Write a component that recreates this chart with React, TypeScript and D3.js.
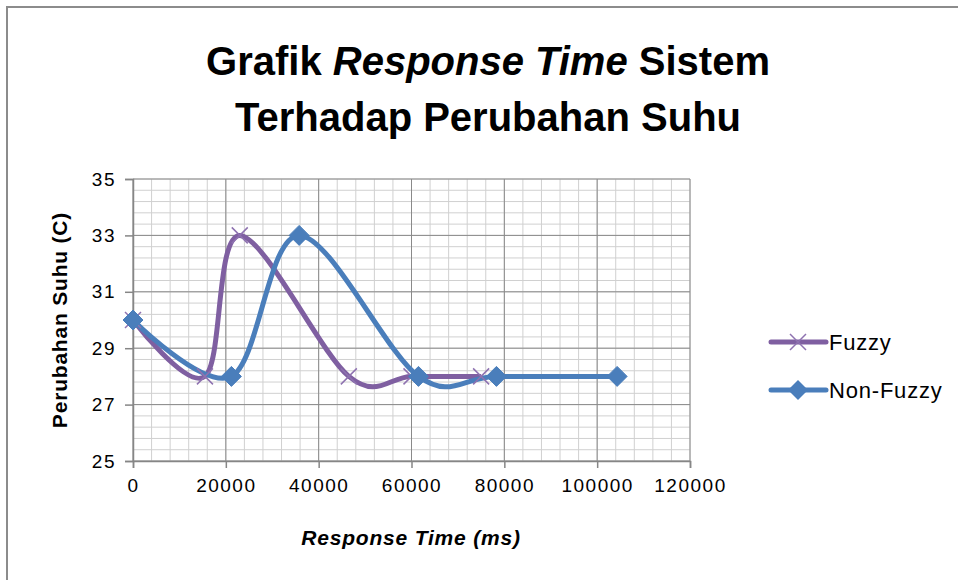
import React, { useEffect, useRef } from "react";
import * as d3 from "d3";

// series values
const fuzzyX = [0, 15500, 23000, 46500, 60000, 75000];
const fuzzyY = [30, 28, 33, 28, 28, 28];
const nonFuzzyX = [0, 21200, 35800, 61500, 78300, 104300];
const nonFuzzyY = [30, 28, 33, 28, 28, 28];

const xTicks = [0, 20000, 40000, 60000, 80000, 100000, 120000];
const yTicks = [25, 27, 29, 31, 33, 35];

const seriesNames = ["Fuzzy", "Non-Fuzzy"];
const seriesColors = ["#7f5fa1", "#4a7ebb"];

const FONT = "'Liberation Sans', Arial, sans-serif";

export default function App() {
    const ref = useRef(null);

    useEffect(() => {
        const svg = d3.select(ref.current);
        svg.selectAll("*").remove();

        // chart frame
        svg.append("rect")
            .attr("x", 7).attr("y", 7)
            .attr("width", 1000).attr("height", 1000)
            .attr("fill", "white")
            .attr("stroke", "#8c8c8c")
            .attr("stroke-width", 2);

        const x = d3.scaleLinear().domain([0, 120000]).range([133, 690]);
        const y = d3.scaleLinear().domain([25, 35]).range([461, 179]);

        const g = svg.append("g");

        // minor grid
        const minorX = d3.range(0, 120001, 4000);
        const minorY = d3.range(25, 35.001, 0.4);
        g.selectAll(".mx").data(minorX).enter().append("line")
            .attr("x1", d => x(d)).attr("x2", d => x(d))
            .attr("y1", y(25)).attr("y2", y(35))
            .attr("stroke", "#d0d0d0").attr("stroke-width", 1);
        g.selectAll(".my").data(minorY).enter().append("line")
            .attr("x1", x(0)).attr("x2", x(120000))
            .attr("y1", d => y(d)).attr("y2", d => y(d))
            .attr("stroke", "#d0d0d0").attr("stroke-width", 1);

        // major grid
        g.selectAll(".Mx").data(xTicks).enter().append("line")
            .attr("x1", d => x(d)).attr("x2", d => x(d))
            .attr("y1", y(25)).attr("y2", y(35))
            .attr("stroke", "#8a8a8a").attr("stroke-width", 1);
        g.selectAll(".My").data(yTicks).enter().append("line")
            .attr("x1", x(0)).attr("x2", x(120000))
            .attr("y1", d => y(d)).attr("y2", d => y(d))
            .attr("stroke", "#8a8a8a").attr("stroke-width", 1);

        // axes
        const xAxis = svg.append("g")
            .attr("transform", `translate(0,${y(25)})`)
            .call(d3.axisBottom(x).tickValues(xTicks).tickSize(7).tickPadding(11).tickFormat(d3.format("d")));
        const yAxis = svg.append("g")
            .attr("transform", `translate(${x(0)},0)`)
            .call(d3.axisLeft(y).tickValues(yTicks).tickSize(8).tickPadding(9));
        [xAxis, yAxis].forEach(a => {
            a.select(".domain").attr("stroke", "#868686").attr("stroke-width", 1.5);
            a.selectAll(".tick line").attr("stroke", "#868686").attr("stroke-width", 1.5);
            a.selectAll(".tick text")
                .attr("font-family", FONT).attr("font-size", 19)
                .attr("letter-spacing", 1.5).attr("fill", "#000");
        });

        // lines
        const line = d3.line<[number, number]>()
            .x(d => x(d[0])).y(d => y(d[1]))
            .curve(d3.curveCardinal.tension(0));

        const fuzzy: [number, number][] = fuzzyX.map((v, i) => [v, fuzzyY[i]]);
        const nonFuzzy: [number, number][] = nonFuzzyX.map((v, i) => [v, nonFuzzyY[i]]);

        svg.append("path").datum(fuzzy)
            .attr("d", line).attr("fill", "none")
            .attr("stroke", seriesColors[0]).attr("stroke-width", 5)
            .attr("stroke-linejoin", "round");
        svg.append("path").datum(nonFuzzy)
            .attr("d", line).attr("fill", "none")
            .attr("stroke", seriesColors[1]).attr("stroke-width", 5)
            .attr("stroke-linejoin", "round");

        const cross = (cx: number, cy: number, s: number) =>
            `M${cx - s},${cy - s}L${cx + s},${cy + s}M${cx - s},${cy + s}L${cx + s},${cy - s}`;
        const diamond = (cx: number, cy: number, s: number) =>
            `M${cx},${cy - s}L${cx + s},${cy}L${cx},${cy + s}L${cx - s},${cy}Z`;

        svg.selectAll(".fx").data(fuzzy).enter().append("path")
            .attr("d", d => cross(x(d[0]), y(d[1]), 8))
            .attr("stroke", "#8e72b0").attr("stroke-width", 1.5).attr("fill", "none");
        svg.selectAll(".nd").data(nonFuzzy).enter().append("path")
            .attr("d", d => diamond(x(d[0]), y(d[1]), 10))
            .attr("fill", seriesColors[1]).attr("stroke", seriesColors[1]).attr("stroke-width", 1);

        // legend
        const leg = svg.append("g");
        [0, 1].forEach(i => {
            const ly = 342 + i * 48;
            leg.append("line").attr("x1", 771).attr("x2", 826).attr("y1", ly).attr("y2", ly)
                .attr("stroke", seriesColors[i]).attr("stroke-width", 5).attr("stroke-linecap", "round");
            if (i === 0) {
                leg.append("path").attr("d", cross(798, ly, 8))
                    .attr("stroke", "#8e72b0").attr("stroke-width", 1.5).attr("fill", "none");
            } else {
                leg.append("path").attr("d", diamond(798, ly, 10)).attr("fill", seriesColors[1]);
            }
            leg.append("text").attr("x", 829).attr("y", ly + 8)
                .attr("font-family", FONT).attr("font-size", 22).attr("letter-spacing", 0.8).attr("fill", "#000")
                .text(seriesNames[i]);
        });

        // titles
        const t1 = svg.append("text").attr("x", 488).attr("y", 75)
            .attr("text-anchor", "middle").attr("font-family", FONT)
            .attr("font-size", 40).attr("font-weight", "bold").attr("fill", "#000");
        t1.append("tspan").text("Grafik ");
        t1.append("tspan").attr("font-style", "italic").text("Response Time");
        t1.append("tspan").text(" Sistem");
        svg.append("text").attr("x", 488).attr("y", 131)
            .attr("text-anchor", "middle").attr("font-family", FONT)
            .attr("font-size", 40).attr("font-weight", "bold").attr("fill", "#000")
            .text("Terhadap Perubahan Suhu");

        svg.append("text")
            .attr("transform", `translate(67,${(179 + 461) / 2}) rotate(-90)`)
            .attr("text-anchor", "middle").attr("font-family", FONT)
            .attr("font-size", 21).attr("font-weight", "bold").attr("letter-spacing", 0.8).attr("fill", "#000")
            .text("Perubahan Suhu (C)");
        svg.append("text")
            .attr("x", 411).attr("y", 545)
            .attr("text-anchor", "middle").attr("font-family", FONT)
            .attr("font-size", 21).attr("font-weight", "bold").attr("font-style", "italic")
            .attr("letter-spacing", 0.8).attr("fill", "#000")
            .text("Response Time (ms)");
    });

    return (
        <svg ref={ref} width={958} height={580}
             style={{ position: "absolute", left: 0, top: 0, display: "block" }} />
    );
}
